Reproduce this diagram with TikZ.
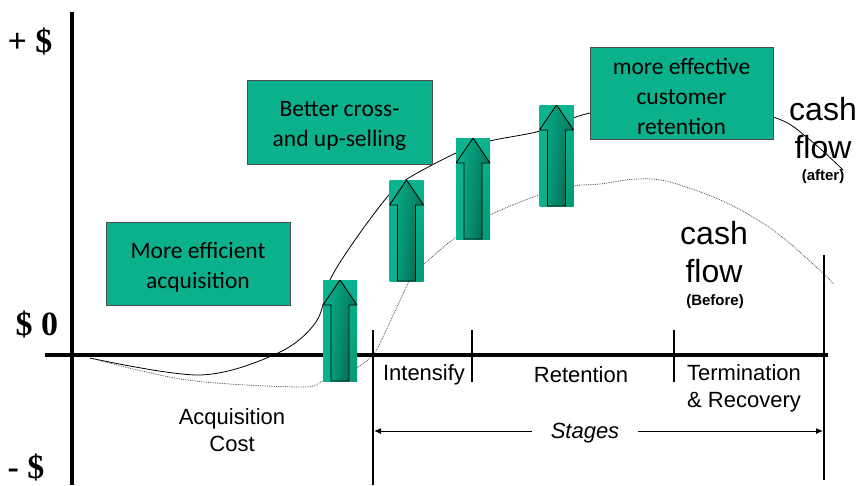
\documentclass[tikz,border=0pt]{standalone}
\usepackage{fontspec}
\setmainfont{Liberation Sans}
\newfontfamily\serifb{Liberation Serif}
\newfontfamily\boxfont{Carlito}
\usetikzlibrary{arrows.meta,calc,shadings}
\definecolor{boxgreen}{RGB}{10,177,140}
\definecolor{rectlight}{RGB}{10,180,142}
\definecolor{rectdark}{RGB}{4,150,116}
\definecolor{arrlight}{RGB}{8,176,138}
\definecolor{arrmid}{RGB}{3,130,100}
\definecolor{arrdark}{RGB}{0,88,68}
\newcommand{\boxstrut}{\rule{0pt}{23pt}}
\begin{document}
\begin{tikzpicture}[x=1pt,y=-1pt,
  axis/.style={line width=4pt},
  tickline/.style={line width=2pt},
  greenbox/.style={draw=black!70, line width=0.8pt, fill=boxgreen, inner sep=0pt, align=center,
    font=\boxfont\fontsize{23.5}{30}\selectfont},
  lbl/.style={inner sep=0pt, align=center, font=\fontsize{22}{27}\selectfont},
  biglbl/.style={inner sep=0pt, align=center, font=\fontsize{32}{38}\selectfont},
  smalllbl/.style={inner sep=0pt, align=center, font=\bfseries\fontsize{15}{18}\selectfont},
  axlbl/.style={inner sep=0pt, font=\serifb\bfseries\fontsize{34}{38}\selectfont},
  aftercurve/.style={line width=0.8pt, black},
  beforecurve/.style={line width=0.8pt, black!70, densely dotted},
  arrbox/.style={minimum width=34pt, minimum height=101pt, inner sep=0pt, shade,
    upper left=rectlight, upper right=rectlight, lower left=rectlight, lower right=rectdark,
    path picture={\shadedraw[line width=0.9pt, upper left=arrlight, upper right=arrmid,
        lower left=arrlight, lower right=arrdark]
      (path picture bounding box.north)
      -- ([yshift=-25pt]path picture bounding box.north east)
      -- ([xshift=9pt,yshift=-25pt]path picture bounding box.north)
      -- ([xshift=9pt]path picture bounding box.south)
      -- ([xshift=-9pt]path picture bounding box.south)
      -- ([xshift=-9pt,yshift=-25pt]path picture bounding box.north)
      -- ([yshift=-25pt]path picture bounding box.north west) -- cycle;}},
  stagearrow/.style={line width=1pt, -{Latex[length=7pt,width=6pt]}},
]
\useasboundingbox (0,0) rectangle (859,485);

% curves
\draw[aftercurve] plot[smooth, tension=0.55] coordinates {(90,358) (200,375) (278,353) (316,322) (330,280) (355,240) (388,196) (407,179) (456,153) (490,141) (540,131) (590,113) (680,100) (773,117) (810,140) (843,170)};
\draw[beforecurve] plot[smooth, tension=0.55] coordinates {(90,358) (187,380) (300,387) (323,381) (353,370) (373,355) (383,337) (397,307) (410,280) (423,265) (456,237) (490,215) (539,195) (573,186) (600,184) (637,179) (670,182) (727,203) (777,233) (827,277) (833,285)};

% axes
\coordinate (ytop) at (72,12);
\coordinate (ybot) at (72,485);
\coordinate (xl) at (45,355);
\coordinate (xr) at (828,355);
\draw[axis] (ytop) -- (ybot);
\draw[axis] (xl) -- (xr);

% ticks
\coordinate (t1a) at (373,330); \coordinate (t1b) at (373,485);
\coordinate (t2a) at (472,330); \coordinate (t2b) at (472,382);
\coordinate (t3a) at (674,330); \coordinate (t3b) at (674,382);
\coordinate (t4a) at (824,255); \coordinate (t4b) at (824,480);
\draw[tickline] (t1a) -- (t1b);
\draw[tickline] (t2a) -- (t2b);
\draw[tickline] (t3a) -- (t3b);
\draw[tickline] (t4a) -- (t4b);

% axis labels
\node[axlbl] (plus) at (30,41) {+ \$};
\node[axlbl] (zero) at (37,324) {\$ 0};
\node[axlbl] (minus) at (26,467) {- \$};

% green boxes
\node[greenbox, minimum width=184pt, minimum height=83pt] (b1) at (198,263.5) {\boxstrut More efficient\\acquisition};
\node[greenbox, minimum width=185pt, minimum height=84pt] (b2) at (339.5,122) {\boxstrut Better cross-\\and up-selling};
\node[greenbox, minimum width=183pt, minimum height=92pt] (b3) at (681.5,93) {\boxstrut more effective\\customer\\retention};

% arrows
\node[arrbox] (a1) at (340,330.5) {};
\node[arrbox] (a2) at (406.5,230.5) {};
\node[arrbox] (a3) at (473,188.5) {};
\node[arrbox] (a4) at (556.5,155.5) {};

% stage labels
\node[lbl] (intens) at (424,375) {Intensify};
\node[lbl] (reten) at (581,375) {Retention};
\node[lbl] (term) at (744,388) {Termination\\\& Recovery};
\node[lbl] (acq) at (232,430) {Acquisition\\Cost};
\node[lbl, inner xsep=19pt, font=\itshape\fontsize{22}{27}\selectfont] (stages) at (585,433) {Stages};
\coordinate (s1) at (374,431);
\coordinate (s2) at (823,431);
\draw[stagearrow] (stages.west |- s1) -- (s1);
\draw[stagearrow] (stages.east |- s2) -- (s2);

% cash flow labels
\node[biglbl] (cfa) at (823,128) {cash\\flow};
\node[smalllbl] (cfan) at (823,177) {(after)};
\node[biglbl] (cfb) at (714,252) {cash\\flow};
\node[smalllbl] (cfbn) at (715,302) {(Before)};
\end{tikzpicture}
\end{document}
